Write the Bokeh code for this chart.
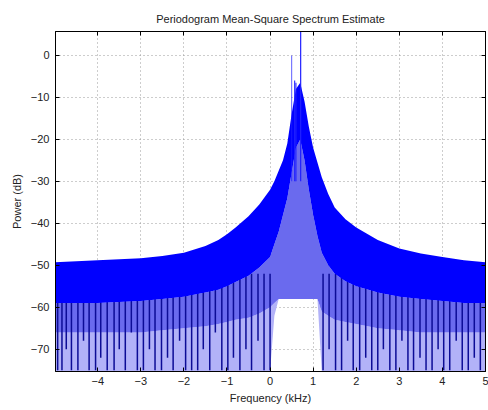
from bokeh.plotting import figure
from bokeh.models import LinearAxis, FixedTicker, Range1d
from bokeh.embed import file_html
from bokeh.resources import INLINE

# ---- data ----
x_ticks = [-4, -3, -2, -1, 0, 1, 2, 3, 4, 5]
y_ticks = [0, -10, -20, -30, -40, -50, -60, -70]

env_f = [-5.0, -4.0, -3.0, -2.5, -2.0, -1.5, -1.2, -1.0, -0.8, -0.5, -0.25, 0.0, 0.1, 0.2, 0.3, 0.4,
         0.5, 0.6, 0.7, 0.8, 0.9, 1.0, 1.1, 1.2, 1.35, 1.5, 1.75, 2.0, 2.5, 3.0, 3.5, 4.0, 4.5, 5.0]
top_db = [-49.3, -48.8, -48.3, -47.8, -47.0, -45.4, -44.0, -42.6, -41.0, -38.3, -35.5, -32.0, -30.0,
          -27.5, -25.0, -21.0, -14.0, -8.0, -6.5, -11.0, -17.0, -22.0, -25.5, -29.0, -33.0, -36.2,
          -39.0, -41.0, -44.0, -46.0, -47.2, -48.0, -48.8, -49.3]
band_db = [-59.0, -59.0, -58.5, -58.0, -57.5, -56.5, -55.8, -55.0, -54.0, -52.5, -50.5, -48.0, -45.0,
           -42.0, -38.0, -34.0, -28.0, -22.0, -20.0, -25.0, -32.0, -38.0, -43.0, -47.0, -50.0, -52.0,
           -53.8, -55.0, -56.5, -57.5, -58.0, -58.5, -59.0, -59.0]
mid_db = [-66.0, -66.0, -66.0, -65.5, -65.0, -64.5, -64.0, -63.5, -63.0, -62.5, -61.5, -60.0, -59.0,
          -58.0, -58.0, -58.0, -58.0, -58.0, -58.0, -58.0, -58.0, -58.0, -58.0, -61.0, -62.0, -63.0,
          -63.5, -64.0, -65.0, -65.5, -66.0, -66.0, -66.0, -66.0]
light_db = [-75.3, -75.3, -75.3, -75.3, -75.3, -75.3, -75.3, -75.3, -75.3, -75.3, -75.3, -75.3, -62.0,
            -58.0, -58.0, -58.0, -58.0, -58.0, -58.0, -58.0, -58.0, -58.0, -58.0, -75.3, -75.3, -75.3,
            -75.3, -75.3, -75.3, -75.3, -75.3, -75.3, -75.3, -75.3]

# deep nulls (dark vertical lines) and their lowest value
null_f = [-4.93, -4.83, -4.73, -4.61, -4.46, -4.33, -4.20, -4.05, -3.93, -3.78, -3.62, -3.50,
          -3.36, -3.22, -3.08, -2.94, -2.80, -2.67, -2.52, -2.38, -2.25, -2.10, -1.96, -1.82,
          -1.68, -1.55, -1.40, -1.27, -1.12, -0.98, -0.85, -0.70, -0.56, -0.43, -0.28, -0.14,
          0.0, 1.23, 1.37, 1.52, 1.66, 1.80, 1.93, 2.08, 2.22, 2.36, 2.50, 2.63, 2.78, 2.92,
          3.06, 3.20, 3.33, 3.48, 3.62, 3.76, 3.90, 4.03, 4.17, 4.32, 4.46, 4.60, 4.74, 4.88]
null_db = [-75, -75, -70, -75, -75, -68, -75, -75, -72, -75, -75, -70,
           -75, -66, -75, -75, -70, -75, -75, -72, -75, -68, -75, -75,
           -75, -70, -75, -66, -75, -75, -72, -75, -70, -75, -68, -75,
           -75, -75, -70, -75, -75, -68, -75, -75, -72, -75, -75, -70, -75, -75,
           -68, -75, -75, -72, -75, -75, -70, -75, -75, -68, -75, -75, -72, -75]

# strong spectral lines near 0.5-0.7 kHz
peak_f = [0.50, 0.57, 0.60, 0.71]
peak_db = [0.0, -6.0, -6.5, 6.0]
peak_alpha = [0.6, 0.9, 0.9, 1.0]

p = figure(width=488, height=410, output_backend="svg", toolbar_location=None,
           x_range=Range1d(-4.98, 5.0), y_range=Range1d(-75.3, 5.7),
           title="Periodogram Mean-Square Spectrum Estimate",
           min_border_left=55, min_border_right=3, min_border_top=31, min_border_bottom=39,
           background_fill_color="white", border_fill_color="white")

p.title.align = "center"
p.title.text_font = "Liberation Sans"
p.title.text_font_size = "11px"
p.title.text_font_style = "normal"
p.title.text_color = "#222222"
p.title.offset = 0
p.title.standoff = 10
p.title.vertical_align = "top"

# spectrum rendering
p.varea(x=env_f, y1=light_db, y2=mid_db, fill_color="#b2b2f8")
p.varea(x=env_f, y1=mid_db, y2=band_db, fill_color="#6a6aee")
p.segment(x0=null_f, y0=[-52] * len(null_f), x1=null_f, y1=null_db, line_color="#0c0c96", line_width=1.5)
p.varea(x=env_f, y1=band_db, y2=top_db, fill_color="#0000ff")
p.segment(x0=peak_f, y0=[-30] * len(peak_f), x1=peak_f, y1=peak_db, line_color="#2020ff",
          line_width=1.2, line_alpha=peak_alpha)

# axes
for ax in (p.xaxis[0], p.yaxis[0]):
    ax.major_tick_in = 4
    ax.major_tick_out = 0
    ax.minor_tick_line_color = None
    ax.axis_line_color = "black"
    ax.major_label_text_font = "Liberation Sans"
    ax.major_label_text_font_size = "11px"
    ax.major_label_text_color = "#222222"
    ax.axis_label_text_font = "Liberation Sans"
    ax.axis_label_text_font_size = "11px"
    ax.axis_label_text_font_style = "normal"
    ax.axis_label_text_color = "#222222"

p.xaxis.ticker = FixedTicker(ticks=x_ticks)
p.yaxis.ticker = FixedTicker(ticks=y_ticks)
p.xaxis.axis_label = "Frequency (kHz)"
p.yaxis.axis_label = "Power (dB)"
p.xaxis.major_label_standoff = 5
p.yaxis.major_label_standoff = 6
p.xaxis.axis_label_standoff = 4
p.yaxis.axis_label_standoff = 5

top_ax = LinearAxis(ticker=FixedTicker(ticks=x_ticks), major_tick_in=4, major_tick_out=0,
                    minor_tick_line_color=None, major_label_standoff=7,
                    major_label_overrides={t: "" for t in x_ticks})
right_ax = LinearAxis(ticker=FixedTicker(ticks=y_ticks), major_tick_in=4, major_tick_out=0,
                      minor_tick_line_color=None, major_label_standoff=0,
                      major_label_overrides={t: "" for t in y_ticks})
p.add_layout(top_ax, "above")
p.add_layout(right_ax, "right")

p.xgrid.ticker = FixedTicker(ticks=x_ticks)
p.ygrid.ticker = FixedTicker(ticks=y_ticks)
p.grid.grid_line_color = "#9a9a9a"
p.grid.grid_line_dash = "1 3"
p.grid.grid_line_width = 1
p.outline_line_color = "black"

open("out.html", "w").write(file_html(p, INLINE))
